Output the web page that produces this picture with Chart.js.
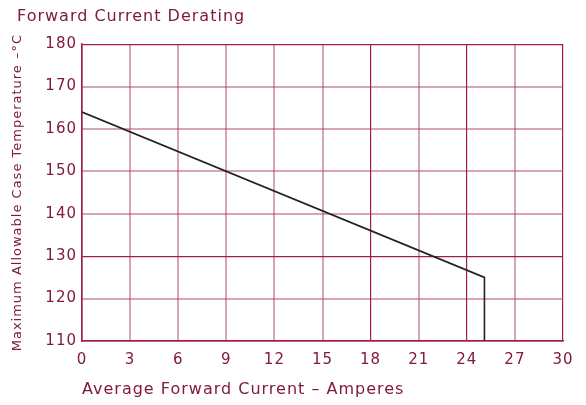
<!DOCTYPE html>
<html>
<head>
<meta charset="utf-8">
<script src="https://cdn.jsdelivr.net/npm/chart.js@4/dist/chart.umd.min.js"></script>
<style>
  html, body { margin: 0; padding: 0; background: #fff; }
  #chart { display: block; }
</style>
</head>
<body>
<canvas id="chart" width="586" height="405"></canvas>
<script>
'use strict';

// derating curve: current (A) vs max case temperature (°C)
const currentAmps = [0, 25.1, 25.1];
const caseTemp = [164, 125, 110];

const xTicks = [0, 3, 6, 9, 12, 15, 18, 21, 24, 27, 30];
const yTicks = [110, 120, 130, 140, 150, 160, 170, 180];

const chartTitle = 'Forward Current Derating';
const xTitle = 'Average Forward Current – Amperes';
const yTitle = 'Maximum Allowable Case Temperature –°C';

const TEXT_COLOR = '#801c3a';
const GRID_DARK = '#a01f43';
const GRID_LIGHT = 'rgba(160, 60, 85, 0.45)';
const darkX = [18, 24, 30];
const darkY = [130, 180];

const fontFamily = '"DejaVu Sans", sans-serif';

const spacingPlugin = {
    id: 'spacing',
    beforeLayout(chart) {
        chart.ctx.letterSpacing = '1px';
    },
    beforeDraw(chart) {
        chart.ctx.letterSpacing = '1px';
    }
};

const ctx = document.getElementById('chart');
new Chart(ctx, {
    type: 'scatter',
    data: {
        datasets: [{
            data: currentAmps.map((x, i) => ({ x: x, y: caseTemp[i] })),
            showLine: true,
            borderColor: '#222',
            borderWidth: 1.6,
            pointRadius: 0,
            fill: false
        }]
    },
    options: {
        responsive: false,
        animation: false,
        layout: { padding: { left: 17, right: 23, top: 0, bottom: 0 } },
        plugins: {
            legend: { display: false },
            tooltip: { enabled: false },
            title: {
                display: true,
                text: chartTitle,
                align: 'start',
                color: TEXT_COLOR,
                font: { family: fontFamily, size: 16, weight: 'normal' },
                padding: { top: 7, bottom: 18 }
            }
        },
        scales: {
            x: {
                type: 'linear',
                min: 0,
                max: 30,
                afterBuildTicks(scale) {
                    scale.ticks = xTicks.map(v => ({ value: v }));
                },
                afterFit(scale) {
                    scale.height = 64;
                },
                grid: {
                    drawTicks: false,
                    color: c => darkX.includes(c.tick.value) ? GRID_DARK : GRID_LIGHT,
                    lineWidth: c => darkX.includes(c.tick.value) ? 1.2 : 2
                },
                border: { color: GRID_DARK, width: 1.5 },
                ticks: {
                    color: TEXT_COLOR,
                    padding: 10,
                    font: { family: fontFamily, size: 15 }
                },
                title: {
                    display: true,
                    text: xTitle,
                    align: 'start',
                    color: TEXT_COLOR,
                    font: { family: fontFamily, size: 16 },
                    padding: { top: 4, bottom: 6 }
                }
            },
            y: {
                type: 'linear',
                min: 110,
                max: 180,
                afterBuildTicks(scale) {
                    scale.ticks = yTicks.map(v => ({ value: v }));
                },
                afterFit(scale) {
                    scale.width = 65;
                },
                grid: {
                    drawTicks: false,
                    color: c => darkY.includes(c.tick.value) ? GRID_DARK : GRID_LIGHT,
                    lineWidth: c => darkY.includes(c.tick.value) ? 1.2 : 2
                },
                border: { color: GRID_DARK, width: 1.5 },
                ticks: {
                    color: TEXT_COLOR,
                    padding: 5,
                    font: { family: fontFamily, size: 15 }
                },
                title: {
                    display: true,
                    text: yTitle,
                    color: TEXT_COLOR,
                    font: { family: fontFamily, size: 13 },
                    padding: { top: -7, bottom: 0 }
                }
            }
        }
    },
    plugins: [spacingPlugin]
});
</script>
</body>
</html>
